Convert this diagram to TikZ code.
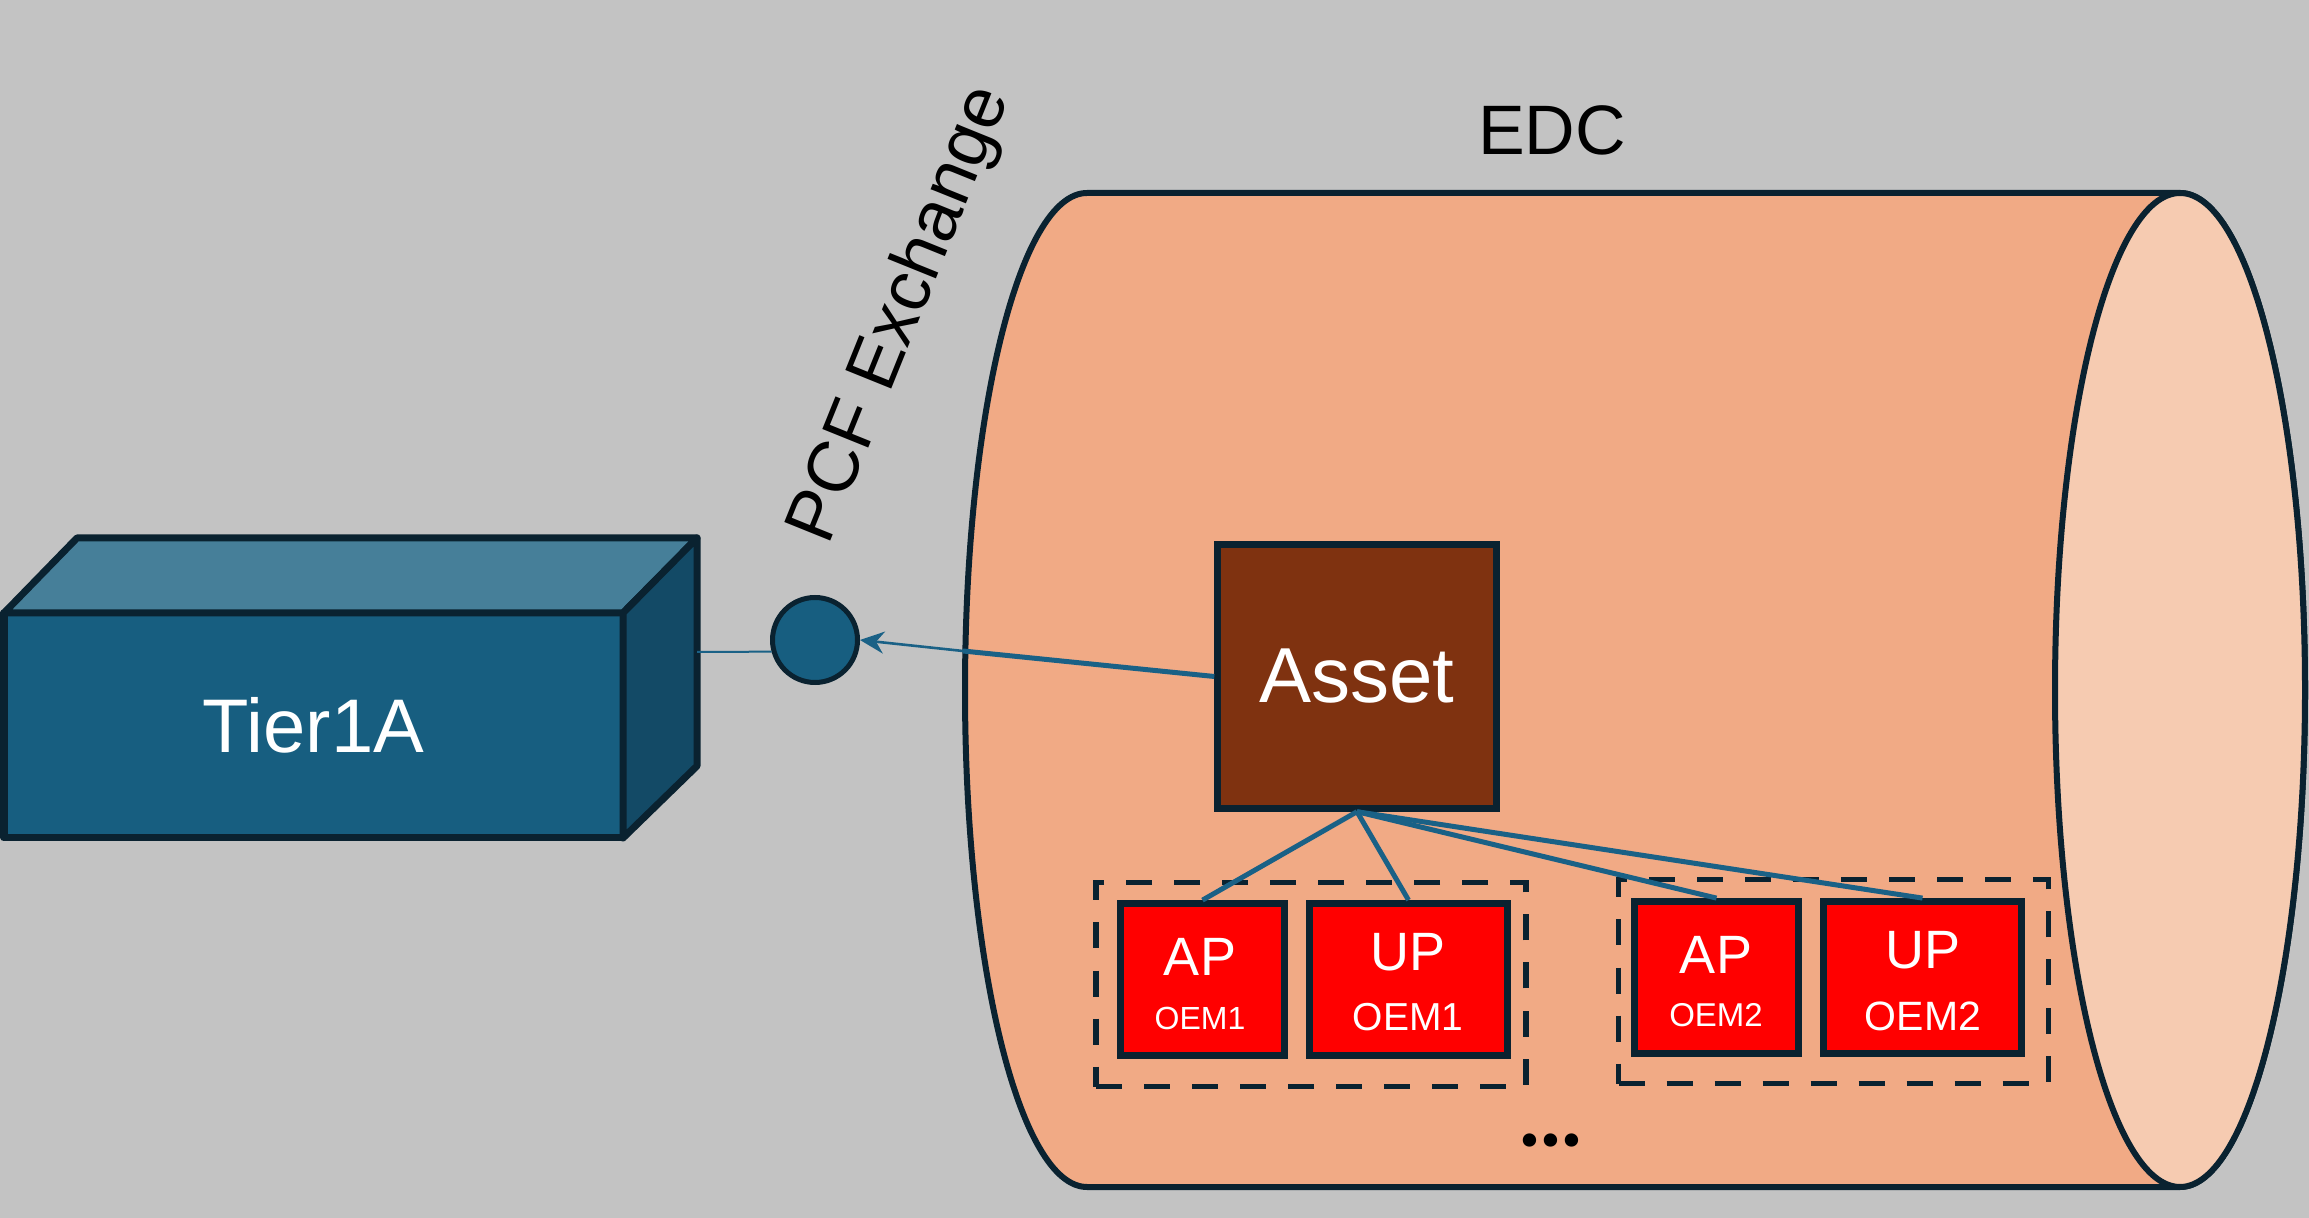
\documentclass[tikz,border=0pt]{standalone}
\usepackage{fontspec}
\setmainfont{Liberation Sans}
\newfontfamily\dotfont{Lato}
\usepackage{tikz}
\usetikzlibrary{arrows.meta}

\definecolor{bgGray}{HTML}{C3C3C3}
\definecolor{tierFront}{HTML}{175E80}
\definecolor{tierTop}{HTML}{467F99}
\definecolor{tierSide}{HTML}{134A66}
\definecolor{edgeDark}{HTML}{0A2230}
\definecolor{wireBlue}{HTML}{1A6186}
\definecolor{edcBody}{HTML}{F1AA85}
\definecolor{edcCap}{HTML}{F6CBB1}
\definecolor{assetBrown}{HTML}{7F3210}

\begin{document}
\begin{tikzpicture}[x=0.5pt, y=-0.5pt,
	part/.style={draw=edgeDark, line width=3.4pt, fill=red, minimum height=76pt, inner sep=0pt},
	parttext/.style={text=white, inner sep=0pt},
	group/.style={draw=edgeDark, line width=2.8pt, dash pattern=on 13pt off 11pt, minimum width=215pt, minimum height=102pt, inner sep=0pt},
	wire/.style={draw=wireBlue, line width=2.5pt}]
	\useasboundingbox (0,0) rectangle (2309,1218);
	\fill[bgGray] (0,0) rectangle (2309,1218);

	% EDC cylinder
	\filldraw[fill=edcBody, draw=edgeDark, line width=3pt] (1087,193) -- (2180,193) arc[start angle=-90, end angle=90, x radius=125, y radius=497] -- (1087,1187) arc[start angle=90, end angle=270, x radius=122, y radius=497] -- cycle;
	\filldraw[fill=edcCap, draw=edgeDark, line width=3pt] (2180,690) ellipse[x radius=125, y radius=497];
	\node[font=\fontsize{35}{36}\selectfont] (edc) at (1552,130) {EDC};
	\coordinate (edcwall) at (963,651);

	% Tier1A box
	\node[draw=edgeDark, fill=tierFront, line width=3.5pt, line join=round, outer sep=0pt, minimum width=309.5pt, minimum height=112.5pt, text=white, font=\fontsize{38}{40}\selectfont] (tier) at (313.5,725.5) {Tier1A};
	\filldraw[fill=tierTop, draw=edgeDark, line width=3.5pt, line join=round] (tier.north west) -- (77,538) -- (697,538) -- (tier.north east) -- cycle;
	\filldraw[fill=tierSide, draw=edgeDark, line width=3.5pt, line join=round] (tier.north east) -- (697,538) -- (697,766) -- (tier.south east) -- cycle;
	\coordinate (tierport) at (697,652);

	% exchange point
	\node[circle, draw=edgeDark, fill=tierFront, line width=2.5pt, minimum size=42.5pt, inner sep=0pt] (pcf) at (815,640) {};
	\node[rotate=68, font=\fontsize{36}{37}\selectfont] (pcflbl) at (902,315) {PCF Exchange};
	\draw[wire, line width=1pt] (tierport) -- (pcf.195);

	% asset
	\node[draw=edgeDark, fill=assetBrown, line width=3.2pt, minimum width=139.5pt, minimum height=132pt, text=white, font=\fontsize{39}{40}\selectfont, inner sep=0pt] (asset) at (1357,676.5) {Asset};
	\draw[wire] (asset.west) -- (edcwall);
	\draw[wire, line width=1.3pt, -{Stealth[length=12pt, width=11pt]}] (edcwall) -- (pcf.east);

	% policy groups
	\node[group] (grp1) at (1311,984.5) {};
	\node[group] (grp2) at (1833.5,981.5) {};

	\node[part, minimum width=82pt] (ap1) at (1202.5,979.5) {};
	\node[part, minimum width=99pt] (up1) at (1408.5,979.5) {};
	\node[part, minimum width=82pt] (ap2) at (1716.5,977.5) {};
	\node[part, minimum width=99pt] (up2) at (1922.5,977.5) {};

	\node[parttext, font=\fontsize{27}{28}\selectfont] (ap1name) at (1200,957) {AP};
	\node[parttext, font=\fontsize{16}{17}\selectfont] (ap1oem) at (1200,1018) {OEM1};
	\node[parttext, font=\fontsize{27}{28}\selectfont] (up1name) at (1408,952) {UP};
	\node[parttext, font=\fontsize{19.5}{20}\selectfont] (up1oem) at (1408,1017) {OEM1};
	\node[parttext, font=\fontsize{27}{28}\selectfont] (ap2name) at (1716,955) {AP};
	\node[parttext, font=\fontsize{16.5}{17}\selectfont] (ap2oem) at (1716,1015) {OEM2};
	\node[parttext, font=\fontsize{27}{28}\selectfont] (up2name) at (1923,950) {UP};
	\node[parttext, font=\fontsize{20.5}{21}\selectfont] (up2oem) at (1923,1016) {OEM2};

	\draw[wire] (asset.south) -- (ap1.north);
	\draw[wire] (asset.south) -- (up1.north);
	\draw[wire] (asset.south) -- (ap2.north);
	\draw[wire] (asset.south) -- (up2.north);

	\node[font=\dotfont\fontsize{44}{44}\selectfont\bfseries] (more) at (1551,1140) {...};
\end{tikzpicture}
\end{document}
